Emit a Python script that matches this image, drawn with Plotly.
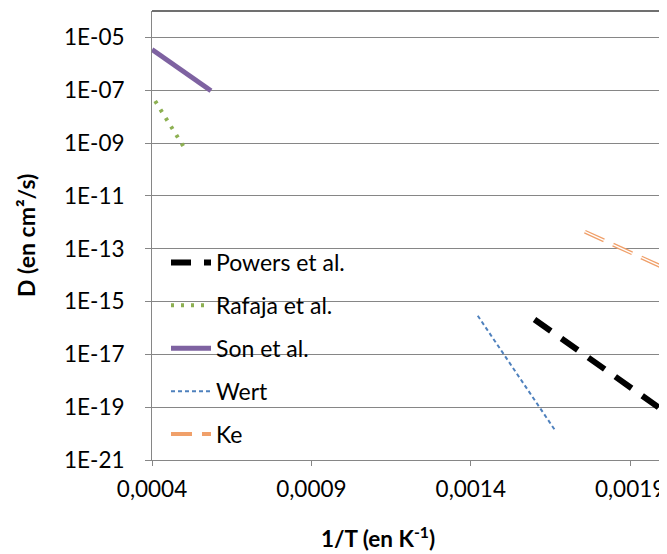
import plotly.graph_objects as go

# ---- data ----
powers_x = [0.00160, 0.00200]
powers_y = [2.1e-16, 8.0e-20]

rafaja_x = [0.00041, 0.00050]
rafaja_y = [3.9e-08, 7.0e-10]

son_x = [0.00040, 0.000585]
son_y = [3.5e-06, 9.5e-08]

wert_x = [0.001422, 0.001667]
wert_y = [2.9e-16, 1.2e-20]

ke_x = [0.001758, 0.00201]
ke_y = [4.4e-13, 1.8e-14]

series_names = ["Powers et al.", "Rafaja et al.", "Son et al.", "Wert", "Ke"]

y_tick_vals = [1e-21, 1e-19, 1e-17, 1e-15, 1e-13, 1e-11, 1e-09, 1e-07, 1e-05]
y_tick_text = ["1E-21", "1E-19", "1E-17", "1E-15", "1E-13", "1E-11", "1E-09", "1E-07", "1E-05"]
x_tick_vals = [0.0004, 0.0009, 0.0014, 0.0019]
x_tick_text = ["0,0004", "0,0009", "0,0014", "0,0019"]

x_title = "<b>1/T (en K<sup>-1</sup>)</b>"
y_title = "<b>D (en cm²/s)</b>"

FONT = "Lato"
FS = 23
OFF = 8  # page body margin of the html page
W, H = 667 - OFF, 554 - OFF
# plot area in screenshot pixels: left 152, top 11, right 662, bottom 460
ML, MT = 152 - OFF, 11 - OFF
MR, MB = W - (662 - OFF), H - (460 - OFF)
PW, PH = W - ML - MR, H - MT - MB


def px(sx):
    return (sx - 152) / PW


def py(sy):
    return (460 - sy) / PH


fig = go.Figure()
fig.add_trace(go.Scatter(x=powers_x, y=powers_y, mode="lines", name=series_names[0],
                         legendgroup="a",
                         line=dict(color="#000000", width=6, dash="20px,13px")))
fig.add_trace(go.Scatter(x=rafaja_x, y=rafaja_y, mode="lines", name=series_names[1],
                         legendgroup="b",
                         line=dict(color="#8DB052", width=4, dash="3px,7px")))
fig.add_trace(go.Scatter(x=son_x, y=son_y, mode="lines", name=series_names[2],
                         legendgroup="c",
                         line=dict(color="#7E62A1", width=5)))
fig.add_trace(go.Scatter(x=wert_x, y=wert_y, mode="lines", name=series_names[3],
                         legendgroup="d",
                         line=dict(color="#4F81BD", width=2, dash="4px,3px")))
fig.add_trace(go.Scatter(x=ke_x, y=ke_y, mode="lines", name=series_names[4],
                         legendgroup="e",
                         line=dict(color="#F0A06A", width=4, dash="21px,10px")))
fig.add_trace(go.Scatter(x=ke_x, y=ke_y, mode="lines", name=series_names[4],
                         legendgroup="e", showlegend=False, hoverinfo="skip",
                         line=dict(color="#FFFFFF", width=1.3, dash="21px,10px")))

fig.update_layout(
    width=W, height=H,
    margin=dict(l=ML, r=MR, t=MT, b=MB, autoexpand=False),
    paper_bgcolor="white", plot_bgcolor="white",
    font=dict(family=FONT, size=FS, color="#000000"),
    showlegend=True,
    legend=dict(x=px(166), y=py(241), xanchor="left", yanchor="top",
                bgcolor="rgba(0,0,0,0)", borderwidth=0,
                font=dict(family=FONT, size=FS, color="#000000"),
                tracegroupgap=10, itemwidth=40),
    xaxis=dict(range=[0.0004, 0.002], tickvals=x_tick_vals, ticktext=x_tick_text,
               showgrid=False, zeroline=False, showline=True, linecolor="#868686",
               linewidth=1, ticks="outside", ticklen=5, tickcolor="#868686",
               ticklabelstandoff=4, automargin=False,
               tickfont=dict(family=FONT, size=FS - 0.5)),
    yaxis=dict(type="log", range=[-21, -4], tickvals=y_tick_vals, ticktext=y_tick_text,
               showgrid=True, gridcolor="#868686", gridwidth=1, zeroline=False,
               showline=True, linecolor="#868686", linewidth=1,
               ticks="outside", ticklen=6, tickcolor="#868686",
               ticklabelstandoff=16, automargin=False,
               tickfont=dict(family=FONT, size=FS - 0.5)),
)

# white legend box (covers gridlines like the reference)
fig.add_shape(type="rect", xref="paper", yref="paper", layer="below",
              x0=px(153), x1=px(372), y0=py(452), y1=py(238),
              line=dict(width=0), fillcolor="white")

# plot-area border (top and right)
fig.add_shape(type="line", xref="paper", yref="paper", x0=0, x1=1, y0=1, y1=1,
              line=dict(color="#404040", width=1.5))
fig.add_shape(type="line", xref="paper", yref="paper", x0=1, x1=1, y0=0, y1=1,
              line=dict(color="#000000", width=1.5))

# axis titles
fig.add_annotation(text=x_title, xref="paper", yref="paper",
                   x=px(378), y=py(537), xanchor="center", yanchor="middle",
                   showarrow=False, font=dict(family=FONT, size=FS - 0.5, color="#000000"))
fig.add_annotation(text=y_title, xref="paper", yref="paper", textangle=-90,
                   x=px(26), y=py(236), xanchor="center", yanchor="middle",
                   showarrow=False, font=dict(family=FONT, size=FS, color="#000000"))

fig.write_html("out.html")
